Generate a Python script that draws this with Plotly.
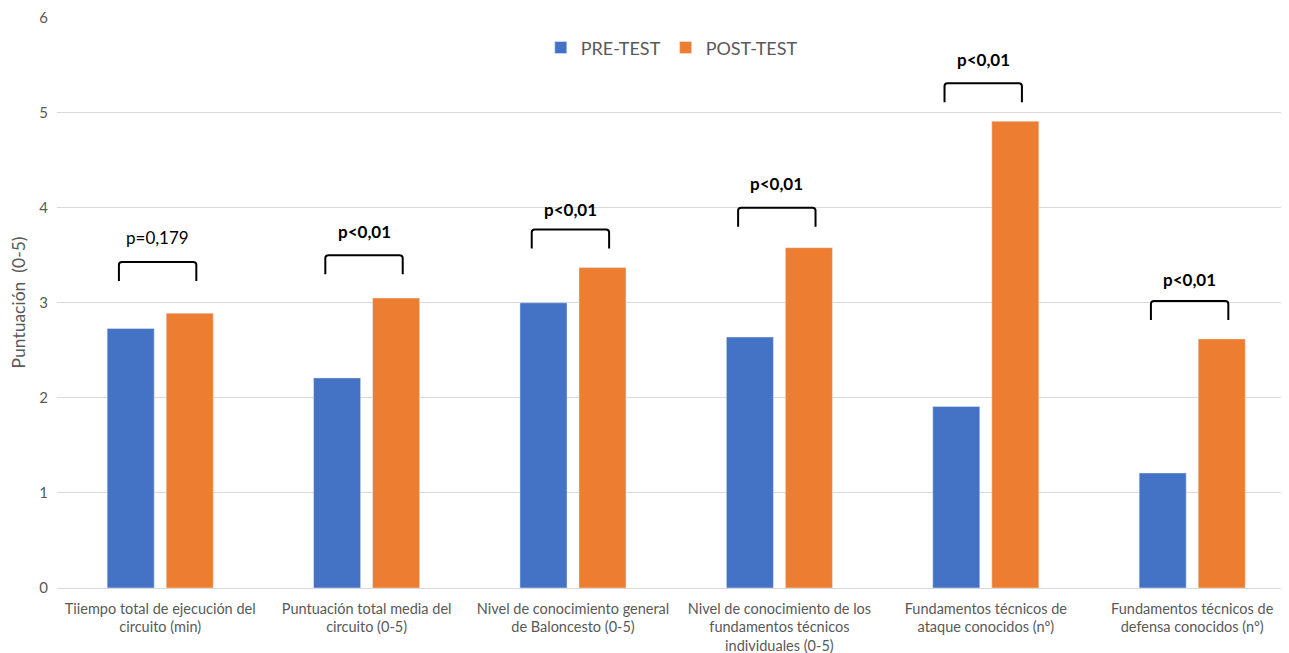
import plotly.graph_objects as go

categories = [
    "Tiiempo total de ejecución del<br>circuito (min)",
    "Puntuación total media del<br>circuito (0-5)",
    "Nivel de conocimiento general<br>de Baloncesto (0-5)",
    "Nivel de conocimiento de los<br>fundamentos técnicos<br>individuales (0-5)",
    "Fundamentos técnicos de<br>ataque conocidos (nº)",
    "Fundamentos técnicos de<br>defensa conocidos (nº)",
]
pre_test = [2.73, 2.21, 3.00, 2.64, 1.91, 1.21]
post_test = [2.89, 3.05, 3.37, 3.58, 4.91, 2.62]
p_labels = ["p=0,179", "p<0,01", "p<0,01", "p<0,01", "p<0,01", "p<0,01"]
p_bold = [False, True, True, True, True, True]
bracket_top = [3.43, 3.50, 3.77, 4.00, 5.31, 3.02]
label_y = [3.69, 3.75, 3.98, 4.26, 5.56, 3.25]

BLUE = "#4472C4"
ORANGE = "#ED7D31"
GRAY = "#595959"
FONT = "Lato"

xs = list(range(len(categories)))

fig = go.Figure()
fig.add_trace(go.Bar(x=xs, y=pre_test, name="PRE-TEST", marker_color=BLUE))
fig.add_trace(go.Bar(x=xs, y=post_test, name="POST-TEST", marker_color=ORANGE))

# brackets
dx0, dx1 = -0.20, 0.175
leg = 0.2
rx, ry = 0.015, 0.03
for i, top in enumerate(bracket_top):
    x0 = i + dx0
    x1 = i + dx1
    yb = top - leg
    path = (f"M {x0},{yb} L {x0},{top-ry} Q {x0},{top} {x0+rx},{top} "
            f"L {x1-rx},{top} Q {x1},{top} {x1},{top-ry} L {x1},{yb}")
    fig.add_shape(type="path", path=path, xref="x", yref="y",
                  line=dict(color="black", width=2))
    txt = f"<b>{p_labels[i]}</b>" if p_bold[i] else p_labels[i]
    fig.add_annotation(x=i + (dx0 + dx1) / 2, y=label_y[i], text=txt,
                       showarrow=False, xref="x", yref="y",
                       font=dict(family=FONT, size=17, color="black"))

# page body has an 8px margin, so the figure is offset by (8, 8)
fig.update_layout(
    width=1281, height=645,
    margin=dict(l=49, r=0, t=9, b=65),
    plot_bgcolor="white", paper_bgcolor="white",
    barmode="group", bargap=0.428, bargroupgap=0.203,
    font=dict(family=FONT, color=GRAY),
    legend=dict(orientation="h", x=0.499, xanchor="center", y=0.946, yanchor="middle",
                font=dict(family=FONT, size=18, color=GRAY), itemwidth=30,
                bgcolor="rgba(0,0,0,0)"),
    xaxis=dict(tickmode="array", tickvals=xs, ticktext=categories,
               range=[-0.5, 5.469], showgrid=False, zeroline=False, showline=False,
               automargin=False, ticklabelstandoff=10,
               ticks="", tickfont=dict(family=FONT, size=14.5, color=GRAY)),
    yaxis=dict(range=[0, 6.006], tickvals=[0, 1, 2, 3, 4, 5, 6],
               showgrid=True, gridcolor="#D9D9D9", gridwidth=1,
               zeroline=True, zerolinecolor="#D9D9D9", zerolinewidth=1,
               showline=False, ticks="", automargin=False, ticklabelstandoff=8,
               ticklabeloverflow="allow",
               tickfont=dict(family=FONT, size=15, color=GRAY),
               title=dict(text="Puntuación  (0-5)", font=dict(family=FONT, size=17.5, color=GRAY),
                          standoff=10)),
)

fig.write_html("out.html")
